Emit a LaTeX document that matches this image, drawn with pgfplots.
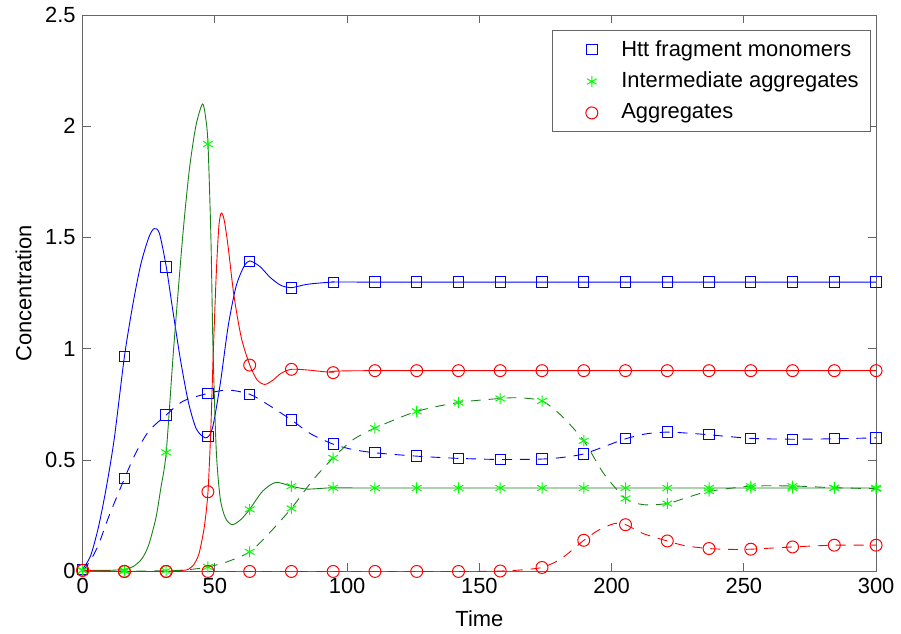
\documentclass[border=0pt]{standalone}
\usepackage{fontspec}
\setmainfont{Liberation Sans}
\usepackage{pgfplots}
\usepackage{pgfplotstable}
\pgfplotsset{compat=1.18}

\definecolor{mblue}{rgb}{0,0,1}
\definecolor{mgreen}{rgb}{0.1,0.5,0.1}
\definecolor{mlime}{rgb}{0,1,0}
\definecolor{mred}{rgb}{1,0,0}

% markers, every 300/19
\pgfplotstableread{
t bs bd gs gd rs rd
0 0.01 0.01 0.005 0.005 0.005 0.005
15.789 0.965 0.417 0.005 0.002 0.0 0.0
31.579 1.367 0.703 0.535 0.003 0.0 0.0
47.368 0.607 0.80 1.92 0.02 0.358 0.0
63.158 1.392 0.796 0.279 0.088 0.927 0.0
78.947 1.273 0.681 0.383 0.283 0.908 0.0
94.737 1.298 0.572 0.376 0.51 0.893 0.0
110.526 1.30 0.533 0.375 0.644 0.902 0.0
126.316 1.30 0.518 0.375 0.719 0.902 0.0
142.105 1.30 0.508 0.375 0.759 0.902 0.0
157.895 1.30 0.503 0.375 0.777 0.902 0.002
173.684 1.30 0.505 0.375 0.766 0.902 0.018
189.474 1.30 0.528 0.375 0.587 0.902 0.14
205.263 1.30 0.596 0.375 0.328 0.902 0.21
221.053 1.30 0.626 0.375 0.305 0.902 0.137
236.842 1.30 0.614 0.375 0.361 0.902 0.103
252.632 1.30 0.598 0.375 0.383 0.902 0.10
268.421 1.30 0.594 0.375 0.383 0.902 0.11
284.211 1.30 0.596 0.375 0.376 0.902 0.118
300 1.30 0.60 0.375 0.372 0.902 0.118
}\mk

\pgfplotstableread{
t y
0 0.01
3 0.07
6 0.2
9 0.38
12 0.6
15.8 0.965
19 1.2
22 1.38
25 1.5
27 1.54
29 1.52
31.6 1.37
34 1.18
37 0.95
40 0.76
43 0.64
46.5 0.60
49 0.64
52 0.84
55 1.1
58 1.28
61 1.37
63.2 1.395
67 1.37
71 1.32
75 1.285
79 1.275
85 1.29
95 1.30
110 1.30
300 1.30
}\bsolid

\pgfplotstableread{
t y
0 0.005
10 0.005
16 0.01
19.5 0.025
22.6 0.06
25 0.12
27.7 0.24
29.5 0.37
31.6 0.535
34.4 1.0
37.8 1.5
40.3 1.8
42.8 2.0
45.3 2.10
46.5 2.04
47.4 1.92
48.5 1.5
49.3 1.0
50.5 0.55
52 0.33
54 0.24
56.6 0.21
60 0.235
63.2 0.28
68 0.36
73 0.40
78.9 0.383
85 0.37
94.7 0.376
110 0.375
300 0.375
}\gsolid

\pgfplotstableread{
t y
0 0.005
10 0.0
20 0.0
30 0.0
38 0.005
40 0.01
42 0.03
44 0.08
46 0.2
47.4 0.358
48.5 0.65
49.3 0.95
50.5 1.33
51.5 1.55
52.4 1.61
53.5 1.58
55 1.46
57.2 1.24
60 1.05
63.2 0.927
66 0.86
68.9 0.84
72 0.86
75 0.89
78.9 0.908
85 0.905
94.7 0.895
110 0.902
300 0.902
}\rsolid

\pgfplotstableread{
t y
0 0.0
3 0.05
6 0.12
10 0.25
15.8 0.417
20 0.53
25 0.63
31.6 0.703
38 0.765
47.4 0.80
55 0.815
63.2 0.796
70 0.75
78.9 0.681
86 0.62
94.7 0.572
102 0.548
110.5 0.533
126.3 0.518
142.1 0.508
157.9 0.503
173.7 0.505
182 0.513
189.5 0.528
197 0.56
205.3 0.596
213 0.618
221 0.626
228 0.622
236.8 0.614
252.6 0.598
268.4 0.594
284.2 0.596
300 0.60
}\bdash

\pgfplotstableread{
t y
0 0.005
15.8 0.002
31.6 0.003
40 0.008
47.4 0.02
55 0.045
63.2 0.088
70 0.165
78.9 0.283
87 0.41
94.7 0.51
102 0.59
110.5 0.644
126.3 0.719
142.1 0.759
157.9 0.777
165 0.78
173.7 0.766
181 0.70
189.5 0.587
197 0.44
205.3 0.328
212 0.30
221 0.305
228 0.33
236.8 0.36
252.6 0.383
268.4 0.384
284.2 0.376
300 0.372
}\gdash

\pgfplotstableread{
t y
0 0.005
15.8 0.0
40 0.0
100 0.0
150 0.0
160 0.003
166 0.007
173.7 0.018
180 0.05
185 0.095
189.5 0.14
195 0.185
201 0.215
205.3 0.21
212 0.17
221 0.137
228 0.115
236.8 0.103
245 0.099
252.6 0.10
268.4 0.11
284.2 0.118
300 0.118
}\rdash

\pgfplotsset{
  sq/.style={color=mblue, draw=none, mark=square, mark size=2.6pt,
      mark options={solid, draw=mblue, fill=none, line width=0.5pt}},
  ast/.style={color=mlime, draw=none, mark=asterisk, mark size=2.8pt,
      mark options={solid, draw=mlime, line width=0.5pt}},
  cir/.style={color=mred, draw=none, mark=o, mark size=3pt,
      mark options={solid, draw=mred, fill=none, line width=0.5pt}},
  lgd/.style={legend image code/.code={%
      \path (0cm,0cm) (1.0cm,0cm);
      \path[#1] plot coordinates {(0.55cm,0cm)};}},
  ln/.style={line width=0.45pt},
  dsh/.style={line width=0.45pt, dash pattern=on 5pt off 4pt},
}

\begin{document}
\begin{tikzpicture}
\begin{axis}[
    scale only axis,
    width=398.5pt, height=279.5pt,
    xmin=0, xmax=300, ymin=0, ymax=2.5,
    xtick={0,50,...,300},
    ytick={0,0.5,1,1.5,2,2.5},
    yticklabels={0,0.5,1,1.5,2,2.5},
    tick align=inside,
    major tick length=4pt,
    axis line style={black!60},
    every tick/.style={black!60},
    font=\fontsize{11}{13}\selectfont,
    /pgf/number format/assume math mode=true,
    xlabel={Time},
    ylabel={Concentration},
    xlabel style={yshift=-1.5pt},
    legend style={at={(0.9937,0.973)}, anchor=north east, draw=black!60,
        font=\fontsize{11}{13}\selectfont, row sep=2.5pt,
        inner xsep=4pt, inner ysep=3pt},
    legend cell align=left,
    smooth, tension=0.45,
]
\addlegendimage{sq, lgd}
\addlegendentry{Htt fragment monomers}
\addlegendimage{ast, lgd}
\addlegendentry{Intermediate aggregates}
\addlegendimage{cir, lgd}
\addlegendentry{Aggregates}
% lines
\addplot[mblue, ln, forget plot] table[x=t,y=y] {\bsolid};
\addplot[mgreen, ln, forget plot] table[x=t,y=y] {\gsolid};
\addplot[mred, ln, forget plot] table[x=t,y=y] {\rsolid};
\addplot[mblue, dsh, forget plot] table[x=t,y=y] {\bdash};
\addplot[mgreen, dsh, forget plot] table[x=t,y=y] {\gdash};
\addplot[mred, dsh, forget plot] table[x=t,y=y] {\rdash};
% markers
\addplot[sq, forget plot] table[x=t,y=bs] {\mk};
\addplot[ast, forget plot] table[x=t,y=gs] {\mk};
\addplot[cir, forget plot] table[x=t,y=rs] {\mk};
\addplot[sq, forget plot] table[x=t,y=bd] {\mk};
\addplot[ast, forget plot] table[x=t,y=gd] {\mk};
\addplot[cir, forget plot] table[x=t,y=rd] {\mk};
\coordinate (ll) at (rel axis cs:0,0);
\coordinate (ur) at (rel axis cs:1,1);
\end{axis}
\path (ll) ++(-41.5pt,-29pt);
\path (ur) ++(10pt,7.5pt);
\end{tikzpicture}
\end{document}
